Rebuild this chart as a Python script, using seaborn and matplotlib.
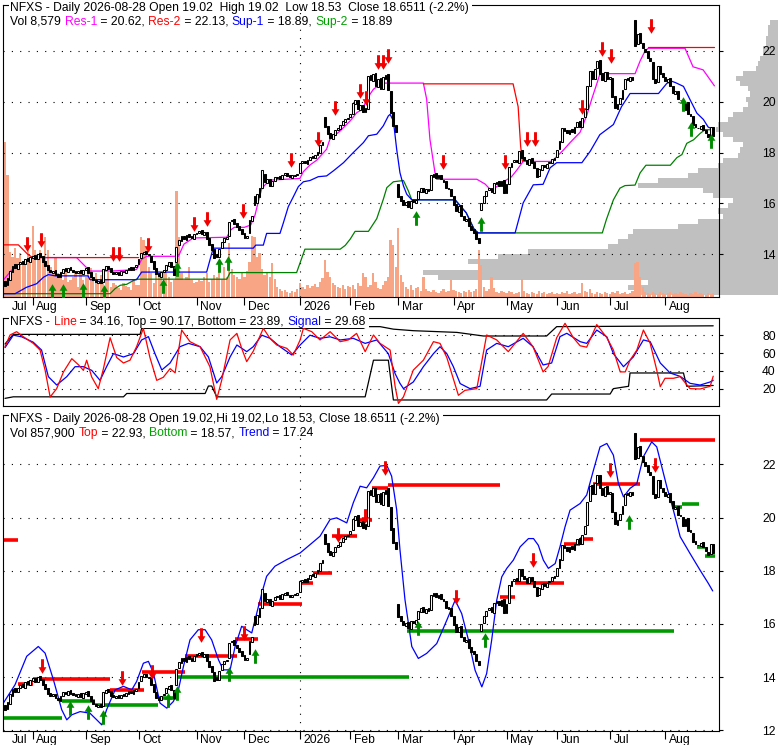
import numpy as np
import pandas as pd
import matplotlib
matplotlib.use("Agg")
import matplotlib.pyplot as plt
import matplotlib.transforms as mtransforms
from matplotlib.path import Path
from matplotlib.patches import Rectangle
import seaborn as sns

sns.set_style("white")
plt.rcParams["font.family"] = ["Liberation Sans", "DejaVu Sans"]
plt.rcParams.update({"axes.edgecolor": "black", "axes.linewidth": 0.8, "text.color": "black",
                     "xtick.color": "black", "ytick.color": "black"})

W, H = 780, 745
FS = 8.75
MAGENTA, RED, BLUE, GREEN, TGREEN = "#ff00ff", "#ff0000", "#0000ff", "#008000", "#00a000"

# ---- trading days ----
holidays = ["2025-09-01", "2025-11-27", "2025-12-25", "2026-01-01", "2026-01-19",
            "2026-02-16", "2026-04-03", "2026-05-25", "2026-06-19", "2026-07-03"]
dates = pd.bdate_range("2025-07-17", "2026-08-28", freq="C", holidays=holidays)

# ---- daily prices ----
opens = [
    12.95, 12.8, 13.0, 13.3, 13.6, 13.42, 13.6, 13.75, 13.6, 13.85, 13.7,  # Jul
    13.85, 13.98, 13.8, 14.05, 13.92, 13.72, 13.58, 13.4, 13.28, 13.38,
    13.22, 13.1, 13.28, 13.45, 13.32, 13.5, 13.4, 13.35, 13.26, 13.4, 13.22,  # Aug
    13.38, 13.48, 13.3, 13.12, 13.0, 12.88, 12.98, 12.9, 13.4, 13.55,
    13.46, 13.32, 13.22, 13.32, 13.2, 13.36, 13.28, 13.38, 13.48, 13.38, 13.48,  # Sep
    13.6, 13.85, 14.0, 14.12, 14.02, 13.95, 13.72, 13.45, 13.25, 13.12,
    13.32, 13.4, 13.55, 13.7, 13.52, 13.7, 14.35, 14.52, 14.72, 14.58, 14.78, 14.7, 14.6,  # Oct
    14.78, 14.82, 14.95, 14.75, 14.88, 14.62, 14.4, 14.2, 14.0, 13.9,
    14.25, 14.48, 14.6, 14.7, 15.3, 15.4, 15.22, 15.1, 14.98,  # Nov
    14.82, 14.65, 14.85, 15.3, 16.3, 16.0, 16.25, 16.6, 17.15, 16.82,
    16.95, 16.68, 16.9, 17.0, 17.08, 16.95, 17.1, 17.2, 17.1, 17.0, 17.08, 17.1,  # Dec
    17.2, 17.58, 17.68, 17.56, 17.7, 17.86, 17.78, 17.9, 18.0, 18.28,
    19.38, 19.05, 18.75, 18.55, 18.7, 18.9, 18.94, 19.08, 19.2, 19.32,  # Jan
    19.38, 19.52, 19.9, 20.08, 19.68, 19.88, 19.58, 19.7, 21.05, 20.82,
    21.12, 20.58, 20.92, 20.48, 20.9, 21.1, 20.4, 19.6, 19.1,  # Feb
    16.75, 16.3, 16.12, 15.92, 16.08, 15.82, 16.12, 16.0, 16.18, 16.45,
    16.62, 16.42, 16.58, 16.52, 17.05, 17.18, 16.98, 17.12, 16.92, 16.88, 16.62, 16.58,  # Mar
    16.28, 15.98, 15.68, 15.92, 15.52, 15.3, 15.42, 15.12, 14.98, 14.88,
    14.62, 15.75, 16.02, 16.28, 16.52, 16.62, 16.42, 16.78, 16.88, 16.68, 16.92,  # Apr
    16.42, 16.78, 17.42, 17.62, 17.72, 17.6, 18.08, 17.82, 17.72, 17.52,
    17.78, 17.62, 17.38, 17.08, 17.32, 17.52, 17.4, 17.58, 17.6, 17.72,  # May
    17.82, 18.12, 18.42, 18.98, 18.88, 18.72, 18.92, 18.78, 19.02, 19.22,
    19.02, 19.38, 19.72, 20.62, 21.22, 20.88, 21.32, 21.62, 21.12, 20.82, 21.18,  # Jun
    20.88, 20.92, 20.22, 19.72, 19.92, 20.12, 20.48, 20.92, 20.82, 20.98,
    23.2, 22.25, 22.7, 22.32, 22.08, 21.98, 21.72, 21.55, 20.88, 20.78, 21.42, 21.12,  # Jul
    20.98, 20.78, 20.92, 20.62, 20.32, 20.42, 20.08, 20.02, 19.68, 19.98,
    19.52, 19.42, 19.12, 18.98, 18.92, 19.08, 18.88, 18.72, 18.62, 19.02,  # Aug
]
closes = [
    12.75, 13.05, 13.35, 13.55, 13.45, 13.6, 13.7, 13.62, 13.8, 13.72, 13.88,
    13.95, 13.82, 14.02, 13.9, 13.7, 13.55, 13.38, 13.3, 13.36, 13.2,
    13.12, 13.3, 13.42, 13.35, 13.46, 13.38, 13.32, 13.28, 13.36, 13.25, 13.4,
    13.45, 13.28, 13.1, 12.98, 12.9, 12.96, 12.86, 13.42, 13.52, 13.44,
    13.3, 13.24, 13.3, 13.2, 13.34, 13.3, 13.4, 13.46, 13.4, 13.5, 13.56,
    13.82, 14.05, 14.1, 14.0, 13.96, 13.7, 13.42, 13.22, 13.15, 13.3,
    13.38, 13.58, 13.68, 13.5, 13.2, 14.3, 14.55, 14.7, 14.6, 14.75, 14.68, 14.62, 14.8,
    14.85, 14.92, 14.78, 14.86, 14.6, 14.38, 14.18, 13.85, 13.88, 14.22,
    14.5, 14.62, 14.66, 15.28, 15.36, 15.2, 15.08, 14.95, 14.8,
    14.65, 14.7, 15.35, 15.5, 15.95, 16.35, 16.6, 17.3, 16.85, 16.95,
    16.7, 16.88, 17.02, 17.05, 16.95, 17.12, 17.18, 17.08, 17.02, 17.1, 17.12, 17.15,
    17.6, 17.66, 17.58, 17.72, 17.84, 17.8, 17.92, 18.02, 18.3, 18.42,
    19.0, 18.72, 18.58, 18.72, 18.88, 18.96, 19.1, 19.22, 19.3, 19.36,
    19.5, 19.95, 20.05, 19.7, 19.85, 19.6, 19.75, 21.0, 20.85, 21.1,
    20.6, 20.9, 20.5, 20.95, 21.05, 20.45, 19.55, 19.05, 18.8,
    16.25, 16.1, 15.95, 16.05, 15.85, 16.1, 16.05, 16.15, 16.5, 16.6,
    16.45, 16.55, 16.5, 17.1, 17.15, 17.0, 17.1, 16.95, 16.85, 16.6, 16.55, 16.3,
    15.95, 15.7, 15.9, 15.5, 15.35, 15.4, 15.1, 14.95, 14.85, 14.6,
    14.45, 16.0, 16.3, 16.5, 16.6, 16.45, 16.8, 16.85, 16.7, 16.9, 16.4,
    16.75, 17.45, 17.6, 17.7, 17.62, 18.05, 17.8, 17.7, 17.55, 17.75,
    17.6, 17.4, 17.05, 17.35, 17.5, 17.42, 17.55, 17.62, 17.75, 17.8,
    18.1, 18.45, 18.95, 18.85, 18.75, 18.9, 18.8, 19.0, 19.2, 19.0,
    19.35, 19.7, 20.6, 21.2, 20.9, 21.3, 21.6, 21.1, 20.85, 21.15, 20.9,
    20.95, 20.2, 19.75, 19.9, 20.15, 20.45, 20.9, 20.85, 20.95, 20.85,
    22.2, 22.65, 22.3, 22.1, 21.95, 21.7, 21.6, 20.9, 20.75, 21.4, 21.1, 20.95,
    20.8, 20.9, 20.6, 20.35, 20.4, 20.1, 20.05, 19.7, 19.95, 19.5,
    19.45, 19.1, 19.0, 18.95, 19.05, 18.9, 18.75, 18.6, 19.0, 18.65,
]
# daily volume, 100k shares
volume = [
    310, 244, 90, 80, 98, 78, 88, 70, 74, 108, 80,
    142, 94, 80, 94, 74, 120, 94, 60, 48, 78, 48, 40, 34, 54, 30, 34, 40, 48, 20, 48, 34,
    40, 48, 58, 34, 48, 28, 44, 36, 34, 50, 20, 28, 24, 18, 14, 28, 22, 20, 14, 34, 24,
    24, 120, 114, 98, 60, 48, 28, 48, 40, 44, 54, 60, 40, 30, 34, 212, 120, 48, 34, 40, 60, 34, 28,
    30, 34, 32, 40, 48, 30, 36, 44, 40, 50, 36, 60, 40, 108, 56, 44, 40, 36, 48,
    40, 52, 70, 122, 120, 80, 88, 56, 44, 50, 40, 68, 36, 20, 16, 12, 14, 10, 8, 12, 10, 16,
    28, 20, 16, 24, 18, 22, 26, 20, 30, 38, 74, 50, 40, 28, 24, 20, 18, 24, 16, 22,
    20, 24, 16, 28, 22, 48, 40, 20, 24, 48, 30, 18, 16, 24, 32, 40, 114, 104, 60,
    138, 44, 30, 20, 16, 24, 14, 18, 20, 12, 40, 16, 12, 10, 14, 10, 8, 12, 16, 10, 12, 34,
    14, 12, 10, 8, 12, 10, 14, 10, 12, 16, 94, 64, 20, 12, 16, 40, 18, 10, 8, 12, 10,
    8, 12, 10, 6, 8, 10, 36, 12, 8, 6, 10, 8, 6, 12, 8, 10, 6, 8, 10, 6,
    8, 6, 10, 8, 12, 6, 8, 10, 6, 8, 28, 12, 10, 16, 8, 6, 10, 8, 6, 10, 8,
    6, 10, 8, 12, 6, 8, 10, 6, 8, 12, 68, 70, 40, 20, 10, 8, 6, 10, 8, 6, 10, 8,
    6, 8, 10, 6, 8, 6, 10, 8, 6, 4, 8, 6, 10, 6, 8, 6, 4, 8, 6, 8.579,
]
# volume at price (gray profile), 100k shares per 0.2 band
vbp_price = [12.5, 12.7, 12.9, 13.1, 13.3, 13.5, 13.7, 13.9, 14.1, 14.3, 14.5, 14.7, 14.9, 15.1,
             15.3, 15.5, 15.7, 15.9, 16.1, 16.3, 16.5, 16.7, 16.9, 17.1, 17.3, 17.5, 17.7, 17.9,
             18.1, 18.3, 18.5, 18.7, 18.9, 19.1, 19.3, 19.5, 19.7, 19.9, 20.1, 20.3, 20.5, 20.7,
             20.9, 21.1, 21.3, 21.5, 21.7, 21.9, 22.1, 22.3, 22.5, 22.7, 22.9, 23.1]
vbp_vol = [140, 150, 130, 340, 355, 300, 310, 280, 250, 170, 160, 150, 145, 100, 80, 55, 60, 50,
           45, 65, 75, 140, 120, 90, 80, 60, 55, 40, 38, 35, 45, 55, 62, 60, 50, 45, 35, 30, 32,
           28, 30, 38, 42, 35, 22, 20, 18, 15, 15, 12, 12, 10, 10, 8]

# ---- top panel support / resistance (vertices, day index -> price) ----
res1_i = [-0.8, 2.6, 6, 11.2, 28.4, 33.7, 42.3, 52.2, 54.2, 56.2, 68.8, 71, 74.7, 88, 89.5,
          91, 95, 97.5, 99.2, 100.5, 101.9, 103.8, 106, 117, 118.4, 121, 123.7, 127.6, 128.9,
          133, 137, 139.6, 141.9, 143.5, 146.2, 148.1, 150.1, 166, 167.3, 168.6, 170.6, 171.3,
          187.2, 190.5, 193, 197, 201, 203, 205.6, 216.9, 219, 221.6, 224.3, 228.2, 230.8, 232.8,
          234.8, 236.1, 250, 252, 254, 255.3, 269.8, 273, 277, 281.5]
res1_v = [12.97, 13.37, 13.6, 13.87, 13.87, 13.34, 13.34, 13.4, 13.8, 13.92, 13.92, 14.4, 14.64,
          14.67, 14.95, 15.06, 15.06, 15.15, 15.54, 16.07, 16.59, 16.79, 16.92, 16.98, 17.25,
          17.51, 17.7, 18.13, 18.52, 18.85, 19.25, 19.57, 19.7, 20.1, 20.49, 20.62, 20.73, 20.73,
          20.1, 18.52, 17.21, 16.95, 16.95, 16.76, 16.5, 16.8, 17.05, 17.3, 17.65, 17.65, 17.85,
          18.1, 18.4, 18.8, 19.45, 20.1, 20.7, 21.1, 21.1, 21.6, 22.0, 22.1, 22.1, 21.37, 21.25,
          20.62]
res2_i = [-0.8, 5.3, 9, 11, 53, 166, 201.6, 203.6, 204.6, 205.3, 255.3, 281.5]
res2_v = [14.37, 14.37, 14.0, 13.87, 13.87, 20.7, 20.7, 19.8, 18.24, 17.65, 22.13, 22.13]
res2_seg = [0, 0, 0, 0, 0, 1, 1, 1, 1, 1, 2, 2]
sup1_i = [-0.8, 4, 8.5, 12.5, 15.3, 17.2, 20, 33, 33.7, 52.2, 54.2, 80, 82.6, 98.5, 99.5, 102.5,
          103.8, 109.1, 110.4, 112.4, 114.4, 116.4, 118.4, 121, 124.3, 127.6, 130.3, 134.3, 138.2,
          142.2, 144.2, 147.5, 150.1, 152.1, 152.8, 154.1, 155.4, 156.7, 158.1, 159.4, 161.4,
          178.6, 183, 186.2, 187.8, 202.4, 205.6, 209.6, 213.5, 216.3, 218.9, 228.9, 232.2, 236,
          241.4, 244.6, 248, 259.3, 262.6, 264.6, 266, 269.2, 271.8, 274.5, 277.1, 279, 281.5]
sup1_v = [12.45, 12.45, 12.7, 12.84, 13.1, 13.2, 13.15, 13.15, 13.0, 13.0, 13.3, 13.3, 14.24,
          14.24, 14.36, 14.36, 14.82, 14.82, 15.22, 15.87, 16.26, 16.66, 16.85, 16.9, 17.05,
          17.08, 17.28, 17.6, 18.0, 18.39, 18.66, 18.72, 19.05, 19.44, 19.5, 19.25, 18.13, 17.21,
          16.69, 16.36, 16.14, 16.14, 15.63, 14.97, 14.84, 14.84, 16.02, 16.73, 16.75, 17.4,
          17.6, 17.6, 18.05, 18.7, 19.1, 19.8, 20.32, 20.32, 20.72, 20.8, 20.75, 20.6, 20.08,
          19.55, 19.3, 19.0, 18.89]
sup2_i = [-0.8, 41.7, 43.7, 45.7, 48.3, 51, 52.2, 88, 89.3, 115.7, 119, 133, 135, 137, 138.9,
          144.2, 147.5, 150.1, 151.5, 154.1, 158.1, 160, 161.4, 178.6, 183, 186.2, 187.8, 237,
          238.6, 241.4, 244, 246, 250, 252, 254.3, 264, 266.6, 268.6, 270.5, 273.2, 275.8, 277.8,
          281.5]
sup2_v = [12.45, 12.45, 12.65, 12.78, 12.82, 12.97, 13.02, 13.02, 13.28, 13.28, 14.2, 14.2, 14.35,
          14.6, 14.9, 14.9, 15.4, 16.16, 16.62, 16.85, 16.9, 16.5, 16.14, 16.14, 15.63, 14.97,
          14.84, 14.84, 15.36, 16.14, 16.6, 16.7, 16.72, 17.2, 17.5, 17.5, 17.8, 17.92, 18.36,
          18.5, 18.75, 18.9, 18.89]

# ---- signal arrows ----
top_dn_i = [8.9, 14.1, 43, 45.2, 56.9, 75.1, 80, 94.3, 113.3, 124, 131.1, 140.9, 143.1, 148,
            150.1, 152.1, 173.9, 198.2, 207.1, 210.1, 229.1, 237, 240.4, 256.2]
top_dn_v = [14.42, 14.58, 14.03, 14.03, 14.36, 15.18, 15.38, 15.71, 17.7, 18.53, 19.77, 20.43,
            20.13, 21.54, 21.54, 21.8, 17.62, 17.62, 18.54, 18.54, 19.78, 22.07, 21.8, 22.98]
top_up_i = [18.8, 23.1, 31.1, 39.3, 62.8, 68.1, 85.1, 88.4, 163.1, 188.9, 269.2, 272.3, 280.1]
top_up_v = [12.55, 12.55, 12.6, 12.5, 12.76, 13.42, 13.57, 13.65, 15.43, 15.2, 19.91, 18.93, 18.47]
bot_dn_i = [14.8, 46.3, 58.2, 77.8, 95, 132.3, 142.9, 150.8, 178.9, 209.3, 240.1, 257.9]
bot_dn_v = [14.4, 13.96, 14.2, 15.6, 15.65, 19.36, 20.05, 21.87, 17.0, 18.4, 21.8, 21.97]
bot_up_i = [25.8, 33.1, 39, 64.8, 68.1, 89, 99, 164, 190.5, 247.4]
bot_up_v = [12.83, 12.7, 12.5, 13.14, 13.4, 14.1, 14.8, 15.85, 15.4, 19.84]

# ---- middle panel oscillator (vertices) ----
line_i = [0, 2, 4.6, 7.3, 11.2, 13.9, 15.9, 17.9, 20.5, 23.2, 26.5, 29.1, 31.1, 32.4, 34.4, 37,
          39, 41.7, 44.3, 47, 49.6, 52.2, 54.9, 57.5, 60.2, 62.8, 65.5, 67.5, 70.1, 73.4, 77.4,
          81.3, 84, 86, 89.3, 92, 93.9, 95.9, 98.5, 102.5, 105.2, 107.8, 111.8, 114.4, 117.1,
          118.4, 121.7, 125, 129, 133, 136.2, 139.5, 142.9, 146.2, 148.8, 152.8, 154.8, 156.1,
          158.1, 162, 166, 170, 172.6, 175.3, 179.9, 182.5, 187.2, 191.1, 195.1, 199.7, 205.6,
          209.5, 213.5, 215.5, 218.9, 222.2, 225.5, 228.2, 230.8, 234.8, 238.8, 241.4, 244.1,
          246.1, 248, 250.7, 253.3, 256, 258.6, 260, 261.9, 265.2, 267.9, 271.8, 275.8, 279.8, 281]
line_v = [67, 80, 83.7, 78, 70.7, 63.3, 41, 11.1, 20.4, 39, 53.7, 47, 40.7, 52, 33.3, 20.4, 42,
          77, 55, 48.9, 52, 67, 87.4, 55, 29.6, 33, 42.6, 38, 85.5, 72.6, 67, 44.8, 8.5, 30, 74.5,
          81.8, 65.2, 50.4, 62, 87.4, 76, 68.9, 65.2, 57.8, 74.5, 87.4, 83.7, 74.5, 83.7, 72.6,
          74.5, 81.8, 61.5, 80, 70.7, 63.3, 22.6, 4, 11.3, 41, 52, 72.6, 70.7, 55, 13, 18.5, 20.4,
          80, 74.5, 61.5, 81.8, 67, 39, 45, 77, 93, 77, 68, 66.5, 91.6, 77, 63.3, 39, 39, 52, 63.3,
          85.5, 70.7, 41, 22.6, 31.9, 31.9, 33.7, 20.4, 20, 23, 34.2]
sig_i = [0, 3.3, 6.6, 11.2, 14.5, 17.2, 20.5, 24.5, 27.8, 31.1, 34.4, 37.7, 40.3, 43, 47, 51,
         54.2, 56.9, 59.5, 62.2, 65.5, 69.4, 72.8, 77.4, 80.7, 84, 86, 89.3, 92, 95.9, 98.5, 101.9,
         105.2, 109.1, 113.8, 117.1, 121, 125, 129, 133, 138.2, 142.9, 147.5, 152.1, 154.8, 156.7,
         158.1, 162, 166, 170, 172.6, 175.3, 177.9, 180.6, 184.5, 188.5, 191.1, 195.1, 199.7,
         205.6, 209.5, 213.5, 216.9, 220.2, 222.9, 228.2, 230.8, 234.8, 238.8, 241.4, 245.4,
         249.3, 253.3, 256, 260, 263.9, 267.9, 271.8, 275.8, 279.8, 281]
sig_v = [66, 79.8, 78, 72, 63.3, 33.7, 24.4, 33.7, 44.8, 44.8, 40.7, 29.6, 44.8, 59.3, 55.6, 59.3,
         74.5, 78.2, 59.3, 41.1, 48.9, 67, 70.7, 67, 55.6, 26.7, 33.7, 55.6, 68.9, 61.5, 67, 79.8,
         76.3, 67, 57.8, 68.9, 79.8, 76.3, 78, 74.5, 76.3, 70.7, 74.5, 59.3, 37, 26.3, 20.4, 27.8,
         44.8, 59.3, 67, 59.3, 44.8, 26, 20.4, 23, 63.3, 70.7, 67, 76.3, 67, 46.7, 48.9, 78.2,
         81.9, 72.6, 70.7, 85.5, 78, 59.3, 44.8, 55.6, 74.5, 72.6, 48.9, 37.8, 34, 26.3, 24.4,
         27.8, 29.7]
band_top_i = [0, 3.3, 53.6, 54.2, 142.2, 143.5, 148.8, 154.1, 162, 179.3, 189.8, 214.9, 218.9, 281]
band_top_v = [70, 80.7, 80.7, 87.4, 87.4, 89.3, 89.3, 86.5, 84.8, 82.9, 78.9, 78.9, 89.3, 90.2]
band_bot_i = [0, 3.3, 47, 48.3, 79.4, 80.7, 82, 84, 142.9, 146.2, 152.1, 154.1, 214.9, 216.9,
              240.1, 241.4, 247.4, 248, 269.2, 270.5, 281]
band_bot_v = [9.6, 11.3, 11.3, 15, 15, 23.3, 23.3, 11.3, 11.3, 52, 52, 7.8, 7.8, 14.4, 14.4,
              20.4, 23, 37.8, 37.8, 23, 23.9]

# ---- bottom panel: trend curve and top / bottom levels ----
trend_i = [-0.66, 3.97, 8.6, 13.2, 15.9, 19.2, 22.5, 24.5, 26.5, 29.8, 33.7, 36.4, 38.4, 40.3,
           43.7, 47, 50.3, 52.2, 54.9, 56.9, 58.9, 61.5, 64.2, 66.8, 68.8, 70.8, 73.4, 76.7, 79.4,
           82, 84.7, 86.6, 89.3, 91.3, 93.9, 95.9, 97.9, 99.9, 101.9, 103.8, 107.1, 111.8, 117.1,
           121, 125, 129, 131.6, 135.6, 138.2, 140.9, 143.5, 146.2, 148.8, 151.5, 153.4, 155.4,
           156.7, 158.7, 161.4, 164, 167.3, 171.3, 175.3, 178.6, 181.2, 183.9, 186.5, 189.2, 191.1,
           193.1, 195.1, 197.1, 199.1, 201.7, 204.4, 207.7, 209.7, 211.6, 213.6, 215.6, 218.3,
           220.2, 222.2, 224.2, 228.2, 230.8, 233.5, 236.1, 238.8, 241.4, 243.4, 245.4, 248,
           250.7, 253.3, 256.6, 258.6, 260.6, 262.6, 265.2, 267.9, 271.8, 275.8, 279.1, 280.8]
trend_v = [13.02, 13.71, 14.78, 15.15, 14.9, 13.9, 12.77, 12.39, 12.58, 12.7, 12.64, 12.39, 12.2,
           12.77, 13.52, 13.65, 13.52, 13.83, 14.52, 14.59, 14.15, 13.02, 12.83, 13.08, 13.52,
           14.4, 15.4, 15.78, 15.78, 15.4, 14.65, 14.27, 14.27, 15.15, 15.91, 15.78, 15.66, 16.41,
           17.16, 17.79, 18.17, 18.42, 18.67, 18.98, 19.3, 19.93, 19.99, 19.8, 20.56, 21.18, 21.12,
           21.5, 21.94, 21.96, 21.56, 20.3, 18.8, 16.91, 15.15, 14.7, 14.89, 15.26, 16.14, 16.89,
           16.39, 15.39, 14.26, 13.63, 14.13, 15.39, 16.89, 17.77, 18.09, 18.4, 18.9, 19.21, 19.21,
           18.96, 18.4, 18.09, 18.27, 18.9, 19.65, 20.28, 20.53, 20.85, 21.79, 22.66, 22.79, 22.35,
           21.28, 20.78, 21.1, 21.28, 22.29, 22.85, 22.66, 21.91, 21.16, 20.28, 19.28, 18.65,
           18.02, 17.52, 17.24]
tops_from = [-0.8, 5.3, 11.2, 41.7, 54.2, 71.4, 91.3, 100.5, 117.7, 122.4, 129.6, 139.5, 145.5,
             152.1, 196.5, 202.4, 221.6, 228.2, 233.5, 252]
tops_to = [5.3, 11.2, 41.7, 55, 71.4, 92, 100.5, 117.7, 122.4, 129.6, 139.5, 145.5, 152.1, 196.5,
           202.4, 221.6, 228.2, 233.5, 252, 281.8]
tops_at = [19.17, 13.73, 13.93, 13.52, 14.19, 14.81, 15.44, 16.76, 17.54, 17.92, 19.3, 19.9,
           21.12, 21.22, 17.0, 17.55, 19.0, 19.2, 21.26, 22.92]
bottoms_from = [-0.8, 22.5, 35.7, 60.8, 67.5, 159.4, 264.6, 268.6, 274.5, 277.8]
bottoms_to = [22.5, 35.7, 60.8, 68.1, 160.1, 265.3, 268.6, 275.2, 277.8, 281.8]
bottoms_at = [12.45, 13.08, 12.95, 13.2, 14.0, 15.73, 20.4, 20.5, 18.9, 18.55]

# ---------------------------------------------------------------
x = np.arange(len(closes))
o, c = np.array(opens), np.array(closes)
month_idx = [i for i in range(1, len(dates)) if dates[i].month != dates[i - 1].month]
month_lab = ["2026" if dates[i].month == 1 else dates[i].strftime("%b") for i in month_idx]
jan_idx = month_idx[month_lab.index("2026")]
XLIM = (-0.8, 283.3)

fig = plt.figure(figsize=(W / 100, H / 100), dpi=100)
fig.patch.set_facecolor("white")


def rect(l, t, r, b):
    return [l / W, 1 - b / H, (r - l) / W, (b - t) / H]


ax_h = fig.add_axes(rect(3, 5, 778, 297), zorder=0)
ax_v = fig.add_axes(rect(3, 5, 719, 297), zorder=1)
ax_top = fig.add_axes(rect(3, 5, 719, 297), zorder=2)
ax_mid = fig.add_axes(rect(3, 318, 719, 406), zorder=2)
ax_bot = fig.add_axes(rect(3, 415, 719, 731), zorder=2)

TOP_Y = (12.32, 23.80)
ax_h.barh(vbp_price, vbp_vol, height=0.2, color="#c0c0c0", linewidth=0, antialiased=False)
ax_h.set_xlim(775, 0)
ax_h.set_ylim(*TOP_Y)
ax_h.axis("off")

ax_v.bar(x, volume, width=0.9, color="#f8a585", linewidth=0, antialiased=False)
ax_v.set_xlim(*XLIM)
ax_v.set_ylim(0, 584)
ax_v.axis("off")

dots = (0, (1, 6.5))
for ax in (ax_top, ax_mid, ax_bot):
    ax.set_facecolor("none")
    ax.set_xlim(*XLIM)
    ax.axvline(jan_idx, color="black", ls=dots, lw=0.8, zorder=1)
    ax.yaxis.tick_right()
    ax.tick_params(axis="y", right=True, left=False, labelright=True, labelleft=False,
                   direction="out", length=3, width=0.8, pad=28, labelsize=FS)
    for s in ax.spines.values():
        s.set_linewidth(0.8)

ax_top.set_ylim(*TOP_Y)
ax_top.set_yticks([14, 16, 18, 20, 22])
ax_mid.set_ylim(1.1, 98.9)
ax_mid.set_yticks([20, 40, 60, 80])
ax_bot.set_ylim(11.97, 23.86)
ax_bot.set_yticks([12, 14, 16, 18, 20, 22])
for ax in (ax_top, ax_mid, ax_bot):
    for v in ax.get_yticks():
        ax.axhline(v, color="black", ls=dots, lw=0.8, zorder=1)

for ax in (ax_top, ax_bot):
    ax.set_xticks(month_idx)
    ax.tick_params(axis="x", bottom=True, direction="out", length=5.5, width=0.8, labelbottom=False)
ax_mid.set_xticks([])

# support / resistance lines
sns.lineplot(x=res1_i, y=res1_v, estimator=None, color=MAGENTA, lw=0.9, ax=ax_top)
sns.lineplot(data=pd.DataFrame({"i": res2_i, "v": res2_v, "seg": res2_seg}), x="i", y="v",
             units="seg", estimator=None, color=RED, lw=0.9, ax=ax_top)
sns.lineplot(x=sup2_i, y=sup2_v, estimator=None, color=GREEN, lw=0.9, ax=ax_top)
sns.lineplot(x=sup1_i, y=sup1_v, estimator=None, color=BLUE, lw=0.9, ax=ax_top)

# oscillator
for xi, yi, col in ((band_top_i, band_top_v, "black"), (band_bot_i, band_bot_v, "black"),
                    (sig_i, sig_v, BLUE), (line_i, line_v, RED)):
    sns.lineplot(x=xi, y=yi, estimator=None, color=col, lw=0.9, ax=ax_mid)

# bottom: levels + trend
ax_bot.hlines(tops_at, tops_from, tops_to, color=RED, lw=2.6, zorder=2)
ax_bot.hlines(bottoms_at, bottoms_from, bottoms_to, color="#009a00", lw=2.6, zorder=2)
sns.lineplot(x=trend_i, y=trend_v, estimator=None, color=BLUE, lw=0.9, ax=ax_bot)

# candles
up = c >= o
low = np.minimum(o, c)
body = np.maximum(np.abs(c - o), 0.015)
for ax in (ax_top, ax_bot):
    ax.bar(x[up], body[up], bottom=low[up], width=0.72, color="white", edgecolor="black",
           linewidth=0.75, zorder=4)
    ax.bar(x[~up], body[~up], bottom=low[~up], width=0.72, color="black", edgecolor="black",
           linewidth=0.75, zorder=4)

# arrows
dn_verts = [(-0.1, 0.5), (0.1, 0.5), (0.1, -0.05), (0.27, -0.05), (0, -0.5), (-0.27, -0.05),
            (-0.1, -0.05), (-0.1, 0.5)]
dn_arrow = Path(dn_verts, closed=True)
up_arrow = Path([(px, -py) for px, py in dn_verts], closed=True)
for ax, di, dv, ui, uv in ((ax_top, top_dn_i, top_dn_v, top_up_i, top_up_v),
                           (ax_bot, bot_dn_i, bot_dn_v, bot_up_i, bot_up_v)):
    ax.plot(di, dv, ls="none", marker=dn_arrow, ms=10.5, color="#f00000", mew=0, zorder=5)
    ax.plot(ui, uv, ls="none", marker=up_arrow, ms=10.5, color="#008c00", mew=0, zorder=5)

for ax in (ax_top, ax_mid, ax_bot):
    ax.set_xlabel("")
    ax.set_ylabel("")

# month labels
for ax, base in ((ax_top, 310), (ax_bot, 743)):
    tr = mtransforms.blended_transform_factory(ax.transData, fig.transFigure)
    for pos, lab, dx in zip([0] + month_idx, [dates[0].strftime("%b")] + month_lab,
                            [7] + [3.5] * len(month_idx)):
        ax.text(pos, 1 - base / H, lab, fontsize=FS, ha="left", va="baseline", clip_on=False,
                transform=tr + mtransforms.ScaledTranslation(dx / 100, 0, fig.dpi_scale_trans))

# headers
renderer = fig.canvas.get_renderer()


def text_width(s):
    t = fig.text(0, 0, s + "|", fontsize=FS)
    w = t.get_window_extent(renderer).width
    t.remove()
    t = fig.text(0, 0, "|", fontsize=FS)
    w -= t.get_window_extent(renderer).width
    t.remove()
    return w


def header(parts, x_px, base_px, mask=False):
    done = ""
    for s, col in parts:
        off = text_width(done) if done else 0
        fig.text((x_px + off) / W, 1 - base_px / H, s, color=col, fontsize=FS,
                 ha="left", va="baseline", zorder=6)
        done += s
    if mask:
        fig.add_artist(Rectangle(((x_px - 2) / W, 1 - (base_px + 2.5) / H),
                                 (text_width(done) + 5) / W, 13 / H, transform=fig.transFigure,
                                 facecolor="white", edgecolor="none", zorder=5))


K = "black"
header([("NFXS - Daily 2026-08-28 Open 19.02  High 19.02  Low 18.53  Close 18.6511 (-2.2%)", K)],
       10.5, 10.7, mask=True)
header([("Vol 8,579 ", K), ("Res-1", MAGENTA), (" = 20.62, ", K), ("Res-2", RED),
        (" = 22.13, ", K), ("Sup-1", BLUE), (" = 18.89, ", K), ("Sup-2", TGREEN),
        (" = 18.89", K)], 10.5, 25)
header([("NFXS - ", K), ("Line", RED), (" = 34.16, Top = 90.17, Bottom = 23.89, ", K),
        ("Signal", BLUE), (" = 29.68", K)], 10.5, 325, mask=True)
header([("NFXS - Daily 2026-08-28 Open 19.02,Hi 19.02,Lo 18.53, Close 18.6511 (-2.2%)", K)],
       10.5, 421.7, mask=True)
header([("Vol 857,900 ", K), ("Top", RED), (" = 22.93, ", K), ("Bottom", TGREEN),
        (" = 18.57, ", K), ("Trend", BLUE), (" = 17.24", K)], 10.5, 436)

fig.savefig("out.png", dpi=100, facecolor="white")
